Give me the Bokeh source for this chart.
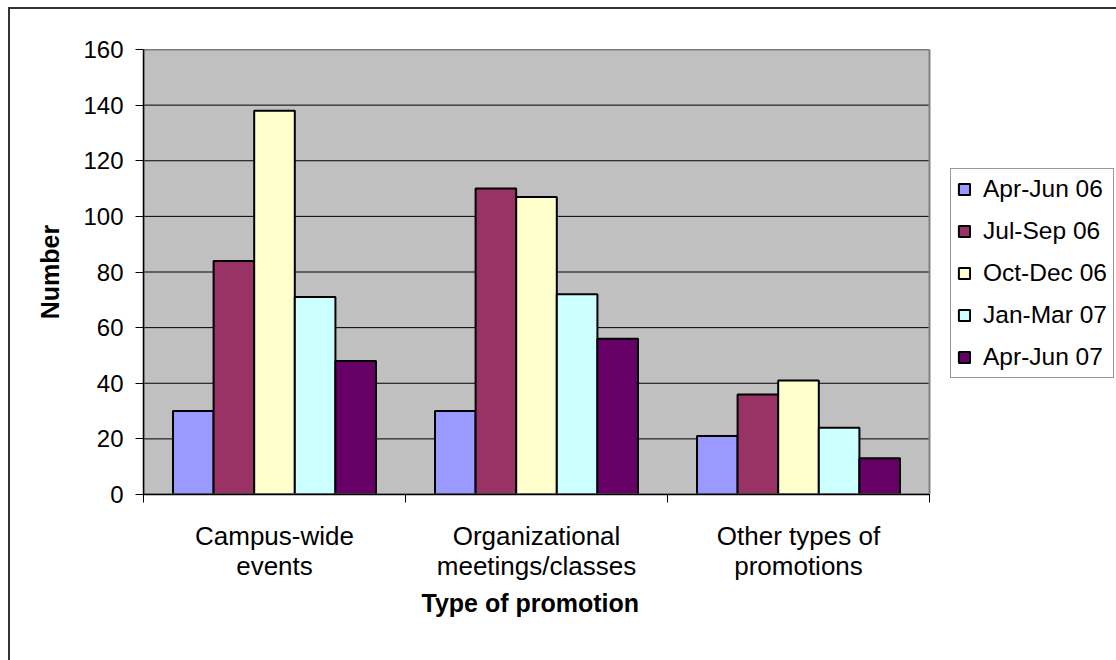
from bokeh.plotting import figure
from bokeh.models import Range1d, FixedTicker, Legend, LegendItem, InlineStyleSheet, Title
from bokeh.embed import file_html
from bokeh.resources import INLINE

# Promotion types (x categories) and quarterly periods (series)
categories = ["Campus-wide\nevents", "Organizational\nmeetings/classes", "Other types of\npromotions"]
periods = ["Apr-Jun 06", "Jul-Sep 06", "Oct-Dec 06", "Jan-Mar 07", "Apr-Jun 07"]

apr_jun_06 = [30, 30, 21]
jul_sep_06 = [84, 110, 36]
oct_dec_06 = [138, 107, 41]
jan_mar_07 = [71, 72, 24]
apr_jun_07 = [48, 56, 13]

series = [apr_jun_06, jul_sep_06, oct_dec_06, jan_mar_07, apr_jun_07]
colors = ["#9999FF", "#993366", "#FFFFCC", "#CCFFFF", "#660066"]

y_ticks = [0, 20, 40, 60, 80, 100, 120, 140, 160]
y_max = 160

FONT = "Liberation Sans"

# Page layout (pixels): plot area is 786 px wide starting 143 px from the left;
# the frame continues to the right edge so the legend can sit beside the plot area.
W, H = 1116, 660
LEFT, TOP, BOTTOM = 143, 49, 166
AREA_W = 786
n = len(categories)
x_end = n * (W - LEFT) / AREA_W

p = figure(
    width=W, height=H,
    x_range=Range1d(0, x_end), y_range=Range1d(0, y_max),
    output_backend="svg", toolbar_location=None,
    min_border_left=LEFT, min_border_right=0,
    min_border_top=TOP, min_border_bottom=BOTTOM,
)
p.background_fill_color = "white"
p.border_fill_color = "white"
p.outline_line_color = None

# grey plot area with horizontal gridlines
p.quad(left=0, right=n, bottom=0, top=y_max, fill_color="#C0C0C0", line_color=None)
p.segment(x0=[0] * len(y_ticks), x1=[n] * len(y_ticks), y0=y_ticks, y1=y_ticks,
          line_color="black", line_width=1)

# clustered bars: five contiguous bars per category
bar_w = 0.155
renderers = []
for i, (vals, col) in enumerate(zip(series, colors)):
    xs = [c + 0.5 + (i - 2) * bar_w for c in range(n)]
    r = p.vbar(x=xs, top=vals, bottom=0, width=bar_w,
               fill_color=col, line_color="black", line_width=2)
    renderers.append(r)

# plot area border
p.quad(left=0, right=n, bottom=0, top=y_max, fill_color=None,
       line_color="#808080", line_width=2)

p.xgrid.visible = False
p.ygrid.visible = False

# y axis
p.yaxis.ticker = FixedTicker(ticks=y_ticks)
p.yaxis.major_tick_out = 8
p.yaxis.major_tick_in = 0
p.yaxis.minor_tick_out = 0
p.yaxis.minor_tick_in = 0
p.yaxis.major_label_standoff = 12
p.yaxis.major_label_text_font = FONT
p.yaxis.major_label_text_font_size = "24px"
p.yaxis.major_label_text_color = "black"
p.yaxis.axis_line_color = "black"
p.yaxis.axis_line_width = 1.5
p.yaxis.major_tick_line_color = "black"
p.yaxis.axis_label = "Number"
p.yaxis.axis_label_text_font = FONT
p.yaxis.axis_label_text_font_style = "bold"
p.yaxis.axis_label_text_font_size = "25px"
p.yaxis.axis_label_text_color = "black"
p.yaxis.axis_label_standoff = 16

# x axis: labels at category centres, tick marks at category boundaries
p.xaxis.bounds = (0, n)
p.xaxis.ticker = FixedTicker(ticks=[c + 0.5 for c in range(n)],
                             minor_ticks=list(range(n + 1)))
p.xaxis.major_label_overrides = {c + 0.5: lab for c, lab in enumerate(categories)}
p.xaxis.major_tick_out = 0
p.xaxis.major_tick_in = 0
p.xaxis.minor_tick_out = 8
p.xaxis.minor_tick_in = 0
p.xaxis.minor_tick_line_color = "black"
p.xaxis.major_label_standoff = 18
p.xaxis.major_label_text_font = FONT
p.xaxis.major_label_text_font_size = "26px"
p.xaxis.major_label_text_line_height = 1.03
p.xaxis.major_label_text_color = "black"
p.xaxis.axis_line_color = "black"
p.xaxis.axis_line_width = 1.5

# x axis title, centred under the plot area
p.add_layout(Title(text="Type of promotion", align="left", offset=278,
                   text_font=FONT, text_font_style="bold", text_font_size="25px",
                   text_color="black", standoff=5), "below")

legend = Legend(
    items=[LegendItem(label=lab, renderers=[r]) for lab, r in zip(periods, renderers)],
    location=(807, 116),
    label_text_font=FONT, label_text_font_size="24.5px", label_text_color="black",
    glyph_width=14, glyph_height=14, label_standoff=12,
    label_height=28, spacing=14, padding=6, margin=0,
    border_line_color="#333333", border_line_width=1,
    background_fill_color="white", background_fill_alpha=1,
)
p.add_layout(legend)

# outer chart border, open towards the right and bottom edges
p.stylesheets = [InlineStyleSheet(css="""
:host { position: relative; overflow: hidden; }
:host::after {
  content: ""; position: absolute; left: 8px; top: 7px;
  width: 1300px; height: 900px; box-sizing: border-box;
  border: 2px solid #333333; pointer-events: none; z-index: 10;
}
""")]

open("out.html", "w").write(file_html(p, INLINE))
